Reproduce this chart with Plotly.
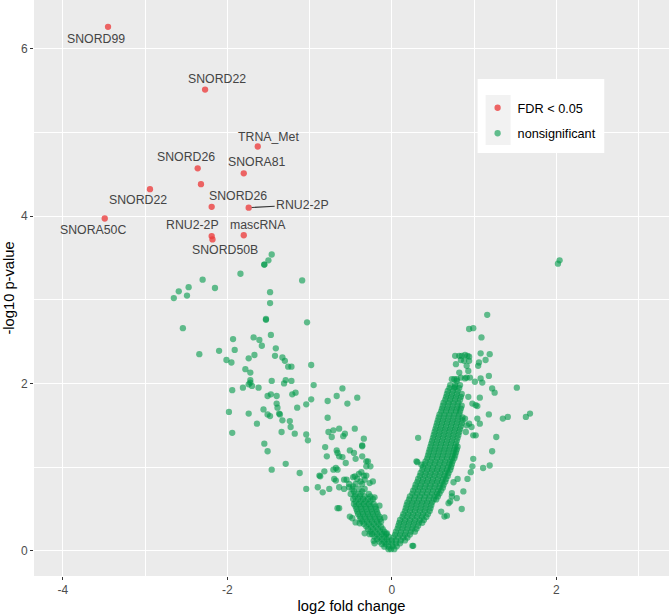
import plotly.graph_objects as go

# ---------------- data ----------------
# significant (FDR < 0.05) features
sig_x = [-3.45, -2.27, -1.63, -2.36, -1.80, -2.32, -2.94, -2.19, -1.74, -3.49, -2.19, -2.18, -1.80]
sig_y = [6.26, 5.51, 4.83, 4.57, 4.51, 4.38, 4.32, 4.11, 4.10, 3.97, 3.76, 3.72, 3.77]
sig_labels = ["SNORD99", "SNORD22", "TRNA_Met", "SNORD26", "SNORA81", "", "SNORD22",
              "SNORD26", "RNU2-2P", "SNORA50C", "RNU2-2P", "SNORD50B", "mascRNA"]

# nonsignificant features: dense right arm of the volcano (read row by row)
right_core_x = [
    -0.01, 0.03,
    0.01, 0.06,
    0.00, 0.05, 0.10,
    0.00, 0.05, 0.11, 0.16,
    0.02, 0.08, 0.14, 0.19,
    0.04, 0.10, 0.16, 0.22,
    0.05, 0.11, 0.17, 0.23, 0.28,
    0.07, 0.13, 0.19, 0.25, 0.30,
    0.08, 0.14, 0.20, 0.26, 0.32,
    0.09, 0.15, 0.21, 0.27, 0.33, 0.37,
    0.10, 0.16, 0.22, 0.28, 0.34, 0.39,
    0.13, 0.19, 0.25, 0.31, 0.37, 0.42,
    0.14, 0.20, 0.26, 0.32, 0.38, 0.44,
    0.16, 0.22, 0.28, 0.34, 0.40, 0.46,
    0.17, 0.23, 0.29, 0.35, 0.41, 0.47,
    0.18, 0.24, 0.30, 0.36, 0.42, 0.48,
    0.19, 0.25, 0.31, 0.37, 0.43, 0.49,
    0.21, 0.27, 0.33, 0.39, 0.45, 0.51, 0.54,
    0.22, 0.28, 0.34, 0.40, 0.46, 0.52, 0.56,
    0.25, 0.31, 0.37, 0.43, 0.49, 0.55, 0.58,
    0.26, 0.32, 0.38, 0.44, 0.50, 0.56, 0.60,
    0.28, 0.34, 0.40, 0.46, 0.52, 0.58, 0.62,
    0.29, 0.35, 0.41, 0.47, 0.53, 0.59, 0.63,
    0.31, 0.37, 0.43, 0.49, 0.55, 0.61, 0.65,
    0.32, 0.38, 0.44, 0.50, 0.56, 0.62, 0.66,
    0.34, 0.40, 0.46, 0.52, 0.58, 0.64, 0.68,
    0.35, 0.41, 0.47, 0.53, 0.59, 0.65, 0.69,
    0.37, 0.43, 0.49, 0.55, 0.61, 0.67, 0.71,
    0.38, 0.44, 0.50, 0.56, 0.62, 0.68, 0.72,
    0.40, 0.46, 0.52, 0.58, 0.64, 0.70, 0.73,
    0.41, 0.47, 0.53, 0.59, 0.65, 0.71, 0.74,
    0.43, 0.49, 0.55, 0.61, 0.67, 0.73, 0.76,
    0.44, 0.50, 0.56, 0.62, 0.68, 0.74, 0.77,
    0.45, 0.51, 0.57, 0.63, 0.69, 0.75, 0.78,
    0.46, 0.52, 0.58, 0.64, 0.70, 0.76, 0.79,
    0.47, 0.53, 0.59, 0.65, 0.71, 0.77, 0.80,
    0.48, 0.54, 0.60, 0.66, 0.72, 0.78,
    0.49, 0.55, 0.61, 0.67, 0.73, 0.79,
    0.50, 0.56, 0.62, 0.68, 0.74, 0.80,
    0.51, 0.57, 0.63, 0.69, 0.75, 0.81,
    0.52, 0.58, 0.64, 0.70, 0.76, 0.82,
    0.53, 0.59, 0.65, 0.71, 0.77, 0.83,
    0.54, 0.60, 0.66, 0.72, 0.78, 0.84,
    0.55, 0.61, 0.67, 0.73, 0.79, 0.85,
    0.56, 0.62, 0.68, 0.74, 0.80, 0.86,
    0.57, 0.63, 0.69, 0.75, 0.81, 0.86,
    0.58, 0.64, 0.70, 0.76, 0.82,
    0.60, 0.66, 0.72, 0.78, 0.83,
    0.61, 0.67, 0.73, 0.79, 0.84,
    0.62, 0.68, 0.74, 0.80, 0.85,
    0.63, 0.69, 0.75, 0.81,
    0.65, 0.71, 0.77, 0.83,
    0.66, 0.72, 0.78, 0.84,
    0.67, 0.73, 0.79, 0.85,
    0.68, 0.74, 0.80,
    0.70, 0.76, 0.82,
    0.71, 0.77, 0.83,
    0.73, 0.79,
]
right_core_y = [
    0.02, 0.02,
    0.055, 0.055,
    0.09, 0.09, 0.09,
    0.125, 0.125, 0.125, 0.125,
    0.16, 0.16, 0.16, 0.16,
    0.195, 0.195, 0.195, 0.195,
    0.23, 0.23, 0.23, 0.23, 0.23,
    0.265, 0.265, 0.265, 0.265, 0.265,
    0.30, 0.30, 0.30, 0.30, 0.30,
    0.335, 0.335, 0.335, 0.335, 0.335, 0.335,
    0.37, 0.37, 0.37, 0.37, 0.37, 0.37,
    0.405, 0.405, 0.405, 0.405, 0.405, 0.405,
    0.44, 0.44, 0.44, 0.44, 0.44, 0.44,
    0.475, 0.475, 0.475, 0.475, 0.475, 0.475,
    0.51, 0.51, 0.51, 0.51, 0.51, 0.51,
    0.545, 0.545, 0.545, 0.545, 0.545, 0.545,
    0.58, 0.58, 0.58, 0.58, 0.58, 0.58,
    0.615, 0.615, 0.615, 0.615, 0.615, 0.615, 0.615,
    0.65, 0.65, 0.65, 0.65, 0.65, 0.65, 0.65,
    0.685, 0.685, 0.685, 0.685, 0.685, 0.685, 0.685,
    0.72, 0.72, 0.72, 0.72, 0.72, 0.72, 0.72,
    0.755, 0.755, 0.755, 0.755, 0.755, 0.755, 0.755,
    0.79, 0.79, 0.79, 0.79, 0.79, 0.79, 0.79,
    0.825, 0.825, 0.825, 0.825, 0.825, 0.825, 0.825,
    0.86, 0.86, 0.86, 0.86, 0.86, 0.86, 0.86,
    0.895, 0.895, 0.895, 0.895, 0.895, 0.895, 0.895,
    0.93, 0.93, 0.93, 0.93, 0.93, 0.93, 0.93,
    0.965, 0.965, 0.965, 0.965, 0.965, 0.965, 0.965,
    1.00, 1.00, 1.00, 1.00, 1.00, 1.00, 1.00,
    1.035, 1.035, 1.035, 1.035, 1.035, 1.035, 1.035,
    1.07, 1.07, 1.07, 1.07, 1.07, 1.07, 1.07,
    1.105, 1.105, 1.105, 1.105, 1.105, 1.105, 1.105,
    1.14, 1.14, 1.14, 1.14, 1.14, 1.14, 1.14,
    1.175, 1.175, 1.175, 1.175, 1.175, 1.175, 1.175,
    1.21, 1.21, 1.21, 1.21, 1.21, 1.21, 1.21,
    1.245, 1.245, 1.245, 1.245, 1.245, 1.245, 1.245,
    1.28, 1.28, 1.28, 1.28, 1.28, 1.28,
    1.315, 1.315, 1.315, 1.315, 1.315, 1.315,
    1.35, 1.35, 1.35, 1.35, 1.35, 1.35,
    1.385, 1.385, 1.385, 1.385, 1.385, 1.385,
    1.42, 1.42, 1.42, 1.42, 1.42, 1.42,
    1.455, 1.455, 1.455, 1.455, 1.455, 1.455,
    1.49, 1.49, 1.49, 1.49, 1.49, 1.49,
    1.525, 1.525, 1.525, 1.525, 1.525, 1.525,
    1.56, 1.56, 1.56, 1.56, 1.56, 1.56,
    1.595, 1.595, 1.595, 1.595, 1.595, 1.595,
    1.63, 1.63, 1.63, 1.63, 1.63,
    1.665, 1.665, 1.665, 1.665, 1.665,
    1.70, 1.70, 1.70, 1.70, 1.70,
    1.735, 1.735, 1.735, 1.735, 1.735,
    1.77, 1.77, 1.77, 1.77,
    1.805, 1.805, 1.805, 1.805,
    1.84, 1.84, 1.84, 1.84,
    1.875, 1.875, 1.875, 1.875,
    1.91, 1.91, 1.91,
    1.945, 1.945, 1.945,
    1.98, 1.98, 1.98,
    2.05, 2.05,
]

# nonsignificant features: dense left arm of the volcano
left_core_x = [
    -0.04,
    -0.09, -0.04,
    -0.12, -0.07,
    -0.15, -0.09, -0.04,
    -0.18, -0.12, -0.06,
    -0.21, -0.15, -0.09, -0.04,
    -0.24, -0.18, -0.12, -0.07,
    -0.26, -0.20, -0.14, -0.09,
    -0.29, -0.23, -0.17, -0.11,
    -0.31, -0.25, -0.19, -0.13,
    -0.34, -0.28, -0.22, -0.16,
    -0.36, -0.30, -0.24, -0.18, -0.13,
    -0.38, -0.32, -0.26, -0.20, -0.14,
    -0.39, -0.33, -0.27, -0.21, -0.15,
    -0.41, -0.35, -0.29, -0.23, -0.17,
    -0.42, -0.36, -0.30, -0.24, -0.18,
    -0.43, -0.37, -0.31, -0.25, -0.19,
    -0.44, -0.38, -0.32, -0.26, -0.20,
    -0.46, -0.40, -0.34, -0.28, -0.22,
    -0.44, -0.38, -0.32, -0.26,
    -0.47, -0.41, -0.35, -0.29, -0.23,
    -0.45, -0.39, -0.33, -0.26,
    -0.50, -0.44, -0.38, -0.28,
    -0.46, -0.36,
    -0.48, -0.40, -0.33,
    -0.52, -0.44, -0.36,
]
left_core_y = [
    0.02,
    0.05, 0.05,
    0.08, 0.08,
    0.11, 0.11, 0.11,
    0.14, 0.14, 0.14,
    0.17, 0.17, 0.17, 0.17,
    0.20, 0.20, 0.20, 0.20,
    0.23, 0.23, 0.23, 0.23,
    0.26, 0.26, 0.26, 0.26,
    0.29, 0.29, 0.29, 0.29,
    0.32, 0.32, 0.32, 0.32,
    0.35, 0.35, 0.35, 0.35, 0.35,
    0.38, 0.38, 0.38, 0.38, 0.38,
    0.41, 0.41, 0.41, 0.41, 0.41,
    0.44, 0.44, 0.44, 0.44, 0.44,
    0.47, 0.47, 0.47, 0.47, 0.47,
    0.50, 0.50, 0.50, 0.50, 0.50,
    0.53, 0.53, 0.53, 0.53, 0.53,
    0.56, 0.56, 0.56, 0.56, 0.56,
    0.59, 0.59, 0.59, 0.59,
    0.62, 0.62, 0.62, 0.62, 0.62,
    0.65, 0.65, 0.65, 0.65,
    0.68, 0.68, 0.68, 0.68,
    0.71, 0.71,
    0.74, 0.74, 0.74,
    0.80, 0.80, 0.80,
]

# nonsignificant features: scattered points
scatter_x = [
    -1.46, -1.50, -1.55, -1.55, -1.84, -2.30, -2.47, -2.59, -2.65, -2.49, -2.15, -1.09,
    -1.48, -1.48, -1.53, -1.53, -1.03, -2.54, -1.47, -1.93, -1.68, -1.61, -1.58, -1.41,
    -2.10, -1.91, -2.34, -1.74, -1.67, -1.42, -1.33, -1.30, -1.22, -1.26, -2.01, -1.95,
    -1.78, -1.72, -0.98, -1.46, -1.29, -1.22, -1.31, -1.72, -1.70, -1.81, -1.62, -1.94,
    -1.51, -1.47, -1.40, -1.21, -1.17, -0.95, -0.60, -0.67, -0.42, -0.78, -0.54, -1.98,
    -1.94, -1.74, -1.64, -1.56, -1.51, -1.48, -1.40, -1.39, -1.37, -1.36, -1.33, -1.34,
    -1.24, -1.23, -1.18, -1.15, -1.04, -0.98, -1.04, -1.02, -1.55, -1.51, -1.46, -1.29,
    -1.12, -1.04, -0.90, -0.84, -0.76, -0.88, -0.87, -0.82, -0.78, -0.77, -0.71, -0.64,
    -0.73, -0.57, -0.59, -0.45, -0.34, -0.36, -0.81, -0.79, -0.67, -0.66, -0.64, -0.60,
    -0.56, -0.51, -0.46, -0.44, -0.36, -0.36, -0.31, -0.29, -0.26, -0.31, -0.71, -0.68,
    -0.66, -0.70, -0.68, -0.58, -0.55, -0.45, -0.40, -0.37, -0.34, -0.31, -0.64, -0.58,
    -0.52, -0.47, -0.64, -0.66, -0.51, -0.48, -0.44, -0.39, -0.33, -0.27, -0.21, -0.22,
    -0.21, -0.15, -0.09, -0.06, -0.33, -0.27, -0.23, -1.72, -1.74, -0.47, -0.42, -0.38,
    1.16, 0.94, 0.99, 1.09, 0.77, 0.82, 0.85, 0.89, 0.92, 0.94, 0.88, 0.94,
    0.84, 0.78, 0.91, 1.06, 1.08, 1.19, 1.14, 1.05, 0.93, 0.82, 1.18, 0.76,
    0.79, 0.77, 0.84, 0.89, 0.91, 0.95, 1.01, 1.08, 1.10, 1.22, 1.25, 1.52,
    1.07, 1.02, 1.18, 1.04, 1.07, 1.35, 1.41, 1.27, 0.99, 1.02, 0.94, 0.97,
    0.32, 1.63, 1.68, 1.22, 2.04, 2.02, 0.99, 0.98, 1.11, 1.19, 0.96, 0.92,
    0.87, 0.85, 0.79, 0.73, 0.71, 0.69, 0.64, 0.67, 0.60, 0.26, 0.30, 0.31,
    0.36, 0.80, 0.75, 0.73, 0.25, 0.98, 1.04, 0.93, 0.89, 0.91, 0.90,
]
scatter_y = [
    3.54, 3.47, 3.42, 3.42, 3.31, 3.24, 3.15, 3.10, 3.02, 3.05, 3.14, 3.23,
    3.09, 2.96, 2.76, 2.77, 2.73, 2.66, 2.58, 2.53, 2.55, 2.52, 2.45, 2.42,
    2.39, 2.40, 2.35, 2.30, 2.34, 2.33, 2.31, 2.27, 2.20, 2.20, 2.28, 2.25,
    2.17, 2.13, 2.22, 2.03, 2.04, 2.03, 2.00, 2.01, 1.97, 1.95, 1.95, 1.92,
    1.85, 1.87, 1.85, 1.87, 1.89, 1.98, 1.94, 1.85, 1.83, 1.79, 1.76, 1.66,
    1.41, 1.64, 1.52, 1.69, 1.63, 1.61, 1.76, 1.71, 1.64, 1.63, 1.56, 1.42,
    1.55, 1.48, 1.40, 1.71, 1.75, 1.81, 1.39, 1.32, 1.28, 1.19, 0.97, 1.04,
    0.93, 0.74, 0.76, 0.70, 0.74, 0.90, 0.89, 0.95, 1.59, 1.42, 1.44, 1.46,
    1.36, 1.40, 1.37, 1.46, 1.34, 1.26, 1.24, 1.13, 1.20, 1.17, 1.13, 1.12,
    1.05, 1.20, 1.17, 1.10, 1.25, 1.13, 1.07, 1.07, 1.01, 1.01, 0.97, 0.99,
    0.97, 0.86, 0.84, 0.85, 0.85, 0.89, 0.92, 0.94, 0.90, 0.90, 0.76, 0.74,
    0.76, 0.77, 0.51, 0.51, 0.41, 0.39, 0.34, 0.33, 0.21, 0.20, 0.09, 0.12,
    0.64, 0.54, 0.40, 0.21, 0.85, 0.81, 0.83, 2.04, 1.99, 0.88, 0.86, 0.83,
    2.82, 2.65, 2.66, 2.55, 2.33, 2.33, 2.33, 2.34, 2.33, 2.32, 2.27, 2.27,
    2.28, 2.23, 2.21, 2.25, 2.36, 2.35, 2.28, 2.21, 2.15, 2.13, 2.09, 2.05,
    2.03, 1.96, 2.07, 2.06, 2.07, 2.07, 2.02, 2.06, 2.01, 1.94, 1.89, 1.95,
    1.83, 1.74, 1.63, 1.58, 1.52, 1.58, 1.60, 1.36, 1.38, 1.38, 1.52, 1.48,
    1.35, 1.60, 1.64, 1.19, 3.47, 3.43, 1.10, 1.01, 0.99, 1.02, 0.94, 0.86,
    0.71, 0.50, 0.63, 0.65, 0.59, 0.57, 0.41, 0.42, 0.47, 0.06, 1.07, 1.06,
    1.03, 0.86, 0.82, 0.69, 0.06, 1.76, 1.73, 1.84, 1.58, 1.50, 1.42,
]

ns_x = right_core_x + left_core_x + scatter_x
ns_y = right_core_y + left_core_y + scatter_y

# ---------------- layout constants ----------------
W, H = 669, 615
ML, MR, MT, MB = 34.3, 0, 0, 39
FONT = "Liberation Sans, Arial, Helvetica, sans-serif"
RED = "rgba(236,60,60,0.78)"
GREEN = "#009A4A"

# label offsets (pixels) relative to each labelled point
label_dx = [-12, 12, 11, -12, 13, 0, -12, 26, 54, -12, -19, 13, 14]
label_dy = [-12, 11, 10, 11, 11, 0, -11, 11, 3, -11, 11, -11, 10]

fig = go.Figure()
fig.add_trace(go.Scatter(
    x=sig_x, y=sig_y, mode="markers", name="FDR < 0.05",
    legendgroup="a",
    marker=dict(color=RED, size=6.3, line=dict(width=0)),
    hoverinfo="skip"))
fig.add_trace(go.Scatter(
    x=ns_x, y=ns_y, mode="markers", name="nonsignificant",
    legendgroup="b",
    marker=dict(color=GREEN, size=6.3, opacity=0.6, line=dict(width=0)),
    hoverinfo="skip"))

annotations = []
for xv, yv, lab, dx, dy in zip(sig_x, sig_y, sig_labels, label_dx, label_dy):
    if not lab:
        continue
    if dx > 40:
        annotations.append(dict(
            x=xv, y=yv, xref="x", yref="y", text=lab, showarrow=True,
            ax=dx, ay=-dy, arrowhead=0, arrowwidth=1.1, arrowcolor="#333333",
            standoff=3, font=dict(family=FONT, size=12.3, color="#444444")))
    else:
        annotations.append(dict(
            x=xv, y=yv, xref="x", yref="y", text=lab, showarrow=False,
            xshift=dx, yshift=dy,
            font=dict(family=FONT, size=12.3, color="#444444")))

# legend box (white) and key background (grey95)
pw = W - ML - MR
ph = H - MT - MB
def px2paper_x(p):
    return (p - ML) / pw
def px2paper_y(p):
    return 1 - (p - MT) / ph

shapes = [
    dict(type="rect", xref="paper", yref="paper", layer="above",
         x0=px2paper_x(477.7), x1=px2paper_x(604.3),
         y0=px2paper_y(153), y1=px2paper_y(79),
         fillcolor="white", line=dict(width=0)),
    dict(type="rect", xref="paper", yref="paper", layer="above",
         x0=px2paper_x(485.7), x1=px2paper_x(510.7),
         y0=px2paper_y(145), y1=px2paper_y(95),
         fillcolor="#F2F2F2", line=dict(width=0)),
]

axis_common = dict(
    showgrid=True, gridcolor="white", gridwidth=1.1,
    zeroline=False, showline=False,
    ticks="outside", ticklen=3, tickwidth=1.1, tickcolor="#333333",
    tickfont=dict(family=FONT, size=12, color="#4D4D4D"),
)

fig.update_layout(
    width=W, height=H,
    margin=dict(l=ML, r=MR, t=MT, b=MB, autoexpand=False),
    plot_bgcolor="#EBEBEB", paper_bgcolor="white",
    font=dict(family=FONT),
    xaxis=dict(range=[-4.35, 3.37], tickmode="array", tickvals=[-4, -2, 0, 2],
               ticktext=["-4", "-2", "0", "2"],
               minor=dict(tickvals=[-3, -1, 1, 3], showgrid=True, gridcolor="white",
                          gridwidth=0.55, ticks=""),
               title=dict(text="log2 fold change", standoff=4,
                          font=dict(family=FONT, size=14.7, color="black")),
               **axis_common),
    yaxis=dict(range=[-0.30, 6.58], tickmode="array", tickvals=[0, 2, 4, 6],
               ticktext=["0", "2", "4", "6"],
               minor=dict(tickvals=[1, 3, 5], showgrid=True, gridcolor="white",
                          gridwidth=0.55, ticks=""),
               title=dict(text="-log10 p-value", standoff=2,
                          font=dict(family=FONT, size=14.7, color="black")),
               **axis_common),
    legend=dict(x=px2paper_x(477.7), y=px2paper_y(93), xanchor="left", yanchor="top",
                bgcolor="rgba(0,0,0,0)", borderwidth=0,
                traceorder="grouped", tracegroupgap=6,
                font=dict(family=FONT, size=12.7, color="black")),
    annotations=annotations,
    shapes=shapes,
)

fig.write_html("out.html", config={"displayModeBar": False},
               post_script="document.body.style.margin='0px';")
